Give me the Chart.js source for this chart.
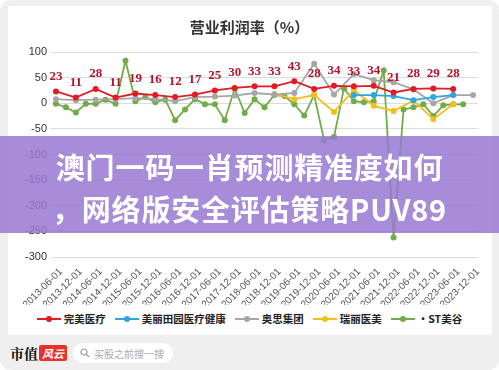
<!DOCTYPE html>
<html>
<head>
<meta charset="utf-8">
<script src="https://cdn.jsdelivr.net/npm/chart.js@4"></script>
<style>
	html, body { margin: 0; padding: 0; background: #fff; }
	#page {
		position: relative; width: 499px; height: 370px; overflow: hidden;
		background: #efefef; border-radius: 10px;
		font-family: 'Noto Sans CJK SC', 'Noto Sans', sans-serif;
	}
	#card {
		position: absolute; left: 8px; top: 6px; width: 484px; height: 329px;
		background: #fff; border-radius: 3px;
	}
	#chart { position: absolute; left: 0; top: 0; }
	#title {
		position: absolute; left: 0; width: 499px; top: 16px; text-align: center;
		font-size: 15px; font-weight: bold; color: #333;
	}
	#legend {
		position: absolute; left: 0; width: 499px; top: 311px;
		display: flex; justify-content: center; gap: 9px;
		font-size: 10.5px; font-weight: bold; color: #222;
	}
	.item { display: flex; align-items: center; }
	.mark { position: relative; width: 24px; height: 10px; margin-right: 3px; }
	.mark i { position: absolute; left: 0; right: 0; top: 4px; height: 2px; }
	.mark b { position: absolute; left: 9px; top: 2px; width: 6px; height: 6px; border-radius: 50%; }
	#band {
		position: absolute; left: 0; top: 136px; width: 499px; height: 97px;
		background: rgba(150, 120, 210, 0.85); color: #fff; text-align: center;
		font-size: 29px; font-weight: bold; line-height: 42px; padding-top: 9px;
		box-sizing: border-box; letter-spacing: 0.8px;
	}
	#footer { position: absolute; left: 10px; top: 343px; display: flex; align-items: center; }
	#brand { font-family: 'Noto Serif CJK SC', 'Noto Sans CJK SC', serif; font-weight: bold; font-size: 14px; color: #111; }
	#logo {
		background: #e8322e; color: #fff; font-size: 11px; font-style: italic; font-weight: bold;
		padding: 0 3px; height: 16px; line-height: 16px; margin-left: 1px; border-radius: 2px;
	}
	#search {
		margin-left: 6px; background: #fff; border-radius: 10px; height: 20px;
		display: flex; align-items: center; font-size: 10px; color: #aaa;
		padding: 0 9px 0 7px; white-space: nowrap;
	}
	#search svg { margin-right: 4px; }
</style>
</head>
<body>
<div id="page">
	<div id="card"></div>
	<canvas id="chart" width="499" height="310"></canvas>
	<div id="title">营业利润率（%）</div>
	<div id="legend"></div>
	<div id="band">澳门一码一肖预测精准度如何<br>，网络版安全评估策略PUV89</div>
	<div id="footer">
		<span id="brand">市值</span><span id="logo">风云</span>
		<div id="search">
			<svg width="10" height="10" viewBox="0 0 10 10"><circle cx="4" cy="4" r="3" stroke="#999" stroke-width="1.2" fill="none"/><line x1="6.3" y1="6.3" x2="9" y2="9" stroke="#999" stroke-width="1.2"/></svg>
			买股之前搜一搜
		</div>
	</div>
</div>
<script>
// Quarterly categories
const quarters = [
	'2013-06-01', '2013-09-01', '2013-12-01',
	'2014-03-01', '2014-06-01', '2014-09-01', '2014-12-01',
	'2015-03-01', '2015-06-01', '2015-09-01', '2015-12-01',
	'2016-03-01', '2016-06-01', '2016-09-01', '2016-12-01',
	'2017-03-01', '2017-06-01', '2017-09-01', '2017-12-01',
	'2018-03-01', '2018-06-01', '2018-09-01', '2018-12-01',
	'2019-03-01', '2019-06-01', '2019-09-01', '2019-12-01',
	'2020-03-01', '2020-06-01', '2020-09-01', '2020-12-01',
	'2021-03-01', '2021-06-01', '2021-09-01', '2021-12-01',
	'2022-03-01', '2022-06-01', '2022-09-01', '2022-12-01',
	'2023-03-01', '2023-06-01', '2023-09-01', '2023-12-01',
];

// Half-year series (June / December only)
const wanmei = [23, 11, 28, 11, 19, 16, 12, 17, 25, 30, 33, 33, 43, 28, 34, 33, 34, 21, 28, 29, 28, null];
const meili = [null, null, null, null, null, null, null, null, null, null, null, null, null, null, null, 16, 16, 14, 6, 12, 16, null];
const aosi = [8, 6, 7, 8, 10, 8, 4, 12, 13, 15, 20, 17, 20, 77, 17, 57, 45, 41, 27, 0, 16, 16];
const ruili = [null, null, null, null, null, null, null, null, null, null, null, 18, 8, 16, -17, 26, -5, -15, 5, -31, -2, null];

// Quarterly series
const meigu = [
	-1, -8, -18, -1, -1, 7, -1, 83, 4, 12, 2, 7, -33, -12, 8, -2, -2, -33, 29, -19,
	8, -8, 16, 14, -2, -24, 16, -72, -66, 29, 4, 2, 4, 64, -262, -12, -8, -2, -25, -4,
	-2, -2, null,
];

const yTicks = [100, 50, 0, -50, -100, -150, -200, -250, -300];

function halfToQuarter(arr) {
	const out = [];
	arr.forEach((v, k) => {
		out.push(v);
		if (k < arr.length - 1) out.push(null);
	});
	return out;
}

const series = [
	{ name: '完美医疗', data: halfToQuarter(wanmei), color: '#e31b23' },
	{ name: '美丽田园医疗健康', data: halfToQuarter(meili), color: '#2aa7df' },
	{ name: '奥思集团', data: halfToQuarter(aosi), color: '#a6a6a6' },
	{ name: '瑞丽医美', data: halfToQuarter(ruili), color: '#f2bf1c' },
	{ name: '•ST美谷', data: meigu, color: '#72ab4a' },
];

// Value labels above the red series
const redLabels = {
	id: 'redLabels',
	afterDatasetsDraw(chart) {
		const ctx = chart.ctx;
		const meta = chart.getDatasetMeta(0);
		ctx.save();
		ctx.font = 'bold 13px "Liberation Serif"';
		ctx.fillStyle = '#b3132a';
		ctx.textAlign = 'center';
		ctx.textBaseline = 'middle';
		meta.data.forEach((pt, i) => {
			const v = chart.data.datasets[0].data[i];
			if (v === null) return;
			ctx.fillText(String(v), pt.x, pt.y - 15);
		});
		ctx.restore();
	},
};

const ctx = document.getElementById('chart').getContext('2d');
new Chart(ctx, {
	type: 'line',
	data: {
		labels: quarters,
		datasets: series.map((s) => ({
			label: s.name,
			data: s.data,
			borderColor: s.color,
			backgroundColor: s.color,
			borderWidth: 1.8,
			pointRadius: 3,
			pointBorderWidth: 0,
			spanGaps: true,
			tension: 0,
		})),
	},
	options: {
		responsive: false,
		animation: false,
		devicePixelRatio: 1,
		layout: { padding: { left: 0, right: 21, top: 52, bottom: 5 } },
		plugins: { legend: { display: false }, tooltip: { enabled: false } },
		scales: {
			x: {
				offset: true,
				grid: { display: false },
				border: { display: false },
				ticks: {
					autoSkip: false,
					maxRotation: 45,
					minRotation: 45,
					labelOffset: 5,
					padding: 1,
					color: '#555',
					font: { size: 10, family: 'Liberation Sans' },
					callback: function (v, i) {
						return i % 2 === 0 ? this.getLabelForValue(v) : '';
					},
				},
				afterFit(scale) { scale.height = 48; },
			},
			y: {
				min: -300,
				max: 100,
				afterBuildTicks(scale) { scale.ticks = yTicks.map((v) => ({ value: v })); },
				grid: { color: '#dcdcdc', drawTicks: false },
				border: { display: false },
				ticks: {
					padding: 4,
					color: '#333',
					font: { size: 11, family: 'Liberation Sans' },
				},
				afterFit(scale) { scale.width = 51; },
			},
		},
	},
	plugins: [redLabels],
});

// HTML legend
const legend = document.getElementById('legend');
series.forEach((s) => {
	const item = document.createElement('div');
	item.className = 'item';
	item.innerHTML = `<span class="mark"><i style="background:${s.color}"></i><b style="background:${s.color}"></b></span>${s.name}`;
	legend.appendChild(item);
});
</script>
</body>
</html>
